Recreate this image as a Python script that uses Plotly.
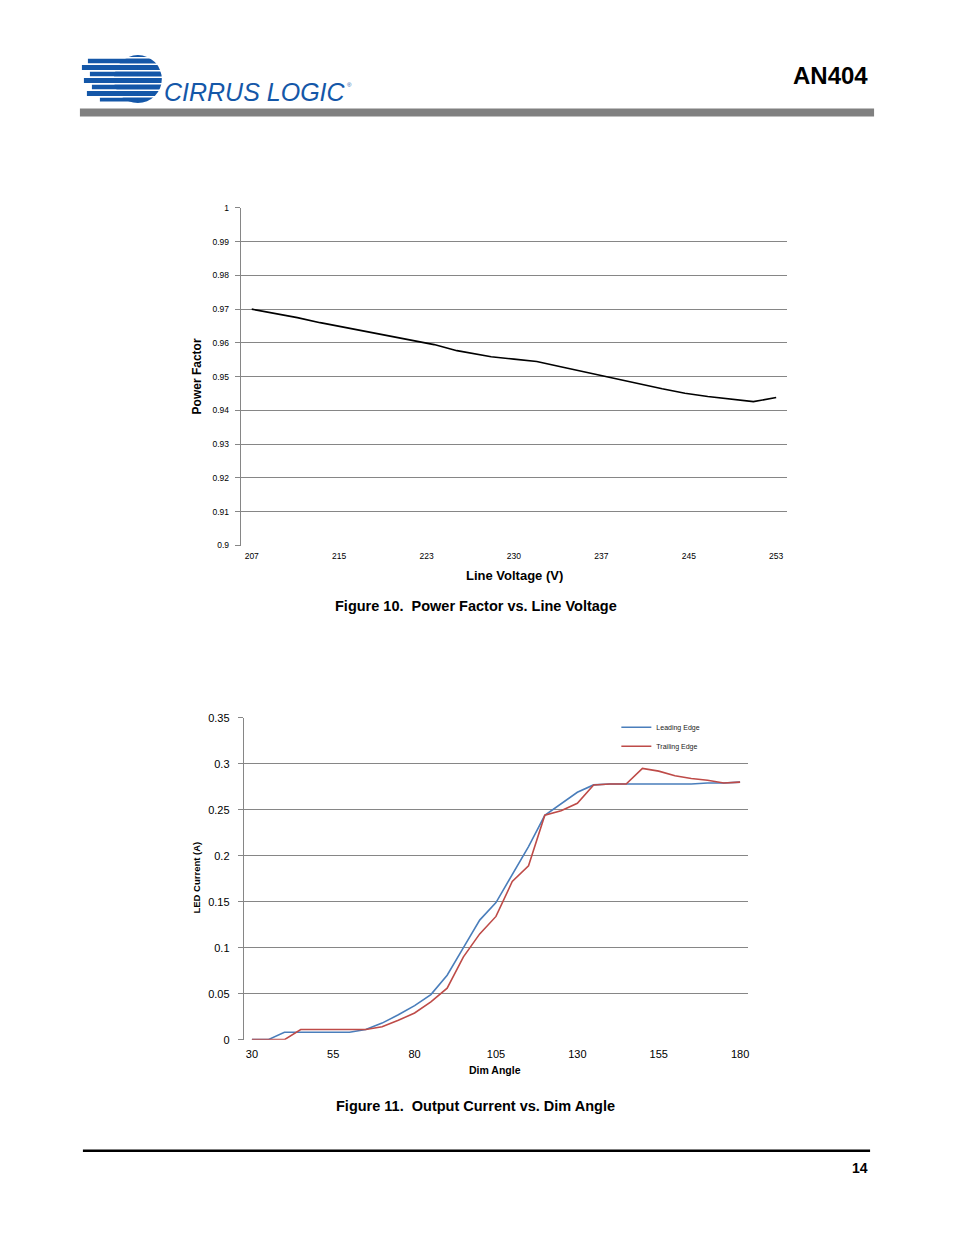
import plotly.graph_objects as go
import numpy as np

# ---------------- data ----------------
# Figure 10: Power factor vs line voltage
line_voltage = [207, 211, 213, 218, 220, 223, 225, 228, 230, 232, 234, 236, 240, 242, 243,
                245, 247, 251, 253]
power_factor = [0.9700, 0.9675, 0.9660, 0.9628, 0.9614, 0.9595, 0.9577, 0.9559, 0.9552, 0.9545,
                0.9530, 0.9515, 0.9485, 0.9472, 0.9464, 0.9451, 0.9441, 0.9426, 0.9438]
pf_x_labels = ["207", "215", "223", "230", "237", "245", "253"]
pf_y_ticks = [0.90, 0.91, 0.92, 0.93, 0.94, 0.95, 0.96, 0.97, 0.98, 0.99, 1.00]
pf_y_labels = ["0.9", "0.91", "0.92", "0.93", "0.94", "0.95", "0.96", "0.97", "0.98", "0.99", "1"]

# Figure 11: Output current vs dim angle
dim_angle = [30, 35, 40, 45, 50, 55, 60, 65, 70, 75, 80, 85, 90, 95, 100, 105, 110, 115, 120,
             125, 130, 135, 140, 145, 150, 155, 160, 165, 170, 175, 180]
leading_edge = [0.0, 0.0, 0.008, 0.008, 0.008, 0.008, 0.008, 0.011, 0.018, 0.027, 0.037, 0.049,
                0.070, 0.100, 0.130, 0.149, 0.180, 0.210, 0.244, 0.257, 0.269, 0.277, 0.278,
                0.278, 0.278, 0.278, 0.278, 0.278, 0.279, 0.279, 0.280]
trailing_edge = [0.0, 0.0, 0.0, 0.011, 0.011, 0.011, 0.011, 0.011, 0.014, 0.021, 0.029, 0.041,
                 0.056, 0.090, 0.115, 0.134, 0.172, 0.189, 0.244, 0.249, 0.257, 0.277, 0.278,
                 0.278, 0.295, 0.292, 0.287, 0.284, 0.282, 0.279, 0.280]
dim_x_ticks = [30, 55, 80, 105, 130, 155, 180]
dim_y_ticks = [0, 0.05, 0.10, 0.15, 0.20, 0.25, 0.30, 0.35]
dim_y_labels = ["0", "0.05", "0.1", "0.15", "0.2", "0.25", "0.3", "0.35"]

# ---------------- page geometry helpers ----------------
# The page body adds an 8px margin; size the figure so the page fits the window exactly.
OFF = 8
W, H = 954 - 2 * OFF, 1235 - 2 * OFF
# small vertical correction observed in the rendered capture
KY, BY = 0.99, 5.5
def px(x):
    return (x - OFF) / W
def py(y):
    yd = (y - BY) / KY
    return 1 - (yd - OFF) / H

GRID = "#868686"
BLUE_LOGO = "#1457a8"

fig = go.Figure()

fig.add_trace(go.Scatter(x=line_voltage, y=power_factor, mode="lines",
                         line=dict(color="black", width=1.6), showlegend=False,
                         xaxis="x", yaxis="y"))
fig.add_trace(go.Scatter(x=dim_angle, y=leading_edge, mode="lines", name="Leading Edge",
                         line=dict(color="#4a7ebb", width=1.6), xaxis="x2", yaxis="y2"))
fig.add_trace(go.Scatter(x=dim_angle, y=trailing_edge, mode="lines", name="Trailing Edge",
                         line=dict(color="#be4b48", width=1.6), xaxis="x2", yaxis="y2"))

pad1 = 11 * 46 / 525
tick_font_small = dict(family="Liberation Sans, Arial", size=8.5, color="black")
tick_font_med = dict(family="Liberation Sans, Arial", size=11, color="black")

fig.update_layout(
    width=W, height=H,
    margin=dict(l=0, r=0, t=0, b=0),
    paper_bgcolor="white", plot_bgcolor="white",
    xaxis=dict(domain=[px(241), px(788)], range=[207 - pad1, 253 + pad1],
               tickvals=list(np.linspace(207, 253, len(pf_x_labels))), ticktext=pf_x_labels,
               showgrid=False, zeroline=False, showline=False, ticks="",
               tickfont=tick_font_small, anchor="y", ticklabelstandoff=4),
    yaxis=dict(domain=[py(545), py(207)], range=[0.8999, 1.0001],
               tickvals=pf_y_ticks, ticktext=pf_y_labels,
               showgrid=True, gridcolor=GRID, gridwidth=1, zeroline=False,
               showline=True, linecolor=GRID, linewidth=1,
               ticks="outside", ticklen=5, tickcolor=GRID, ticklabelstandoff=4,
               tickfont=tick_font_small, anchor="x"),
    xaxis2=dict(domain=[px(244), px(749)], range=[27.5, 182.5],
                tickvals=dim_x_ticks, showgrid=False, zeroline=False, showline=False,
                ticks="", tickfont=tick_font_med, anchor="y2", ticklabelstandoff=6),
    yaxis2=dict(domain=[py(1039), py(717)], range=[-0.0001, 0.3501],
                tickvals=dim_y_ticks, ticktext=dim_y_labels,
                showgrid=True, gridcolor=GRID, gridwidth=1, zeroline=False,
                showline=True, linecolor=GRID, linewidth=1,
                ticks="outside", ticklen=5, tickcolor=GRID, ticklabelstandoff=6,
                tickfont=tick_font_med, anchor="x2"),
    legend=dict(x=px(617), y=py(712), xanchor="left", yanchor="top",
                bgcolor="rgba(0,0,0,0)", borderwidth=0,
                font=dict(family="Liberation Sans, Arial", size=7, color="#222"),
                itemwidth=30, tracegroupgap=0),
    showlegend=True,
)

shapes = []
# header gray bar
shapes.append(dict(type="rect", xref="paper", yref="paper",
                   x0=px(80), x1=px(875), y0=py(116), y1=py(108),
                   fillcolor="#808080", line=dict(width=0)))
# footer black rule
shapes.append(dict(type="line", xref="paper", yref="paper",
                   x0=px(83), x1=px(871), y0=py(1150), y1=py(1150),
                   line=dict(color="black", width=2.5)))

# logo emblem: circle + stripes extending left, with white gaps
cx, cy, r = 138, 78.5, 24
shapes.append(dict(type="circle", xref="paper", yref="paper",
                   x0=px(cx - r), x1=px(cx + r), y0=py(cy + r), y1=py(cy - r),
                   fillcolor=BLUE_LOGO, line=dict(width=0)))
stripe_rows = [(58, 63, 88), (64.5, 69.5, 82), (71, 76, 90), (77.5, 82.5, 84),
               (84, 89, 92), (90.5, 95.5, 87), (97, 101, 100)]
for (y0, y1, xl) in stripe_rows:
    shapes.append(dict(type="rect", xref="paper", yref="paper",
                       x0=px(xl), x1=px(cx), y0=py(y1), y1=py(y0),
                       fillcolor=BLUE_LOGO, line=dict(width=0)))
for yg in [57.2, 63.7, 70.2, 76.7, 83.2, 89.7, 96.2]:
    shapes.append(dict(type="line", xref="paper", yref="paper",
                       x0=px(80), x1=px(163), y0=py(yg), y1=py(yg),
                       line=dict(color="white", width=1.4)))

fig.update_layout(shapes=shapes)

annotations = [
    dict(text="<i>CIRRUS LOGIC</i>", x=px(162), y=py(91), xanchor="left", yanchor="middle",
         font=dict(family="Liberation Sans, Arial", size=25, color=BLUE_LOGO)),
    dict(text="®", x=px(345), y=py(84), xanchor="left", yanchor="middle",
         font=dict(family="Liberation Sans, Arial", size=6, color=BLUE_LOGO)),
    dict(text="<b>AN404</b>", x=px(871), y=py(75), xanchor="right", yanchor="middle",
         font=dict(family="Liberation Sans, Arial", size=24, color="black")),
    dict(text="<b>Power Factor</b>", x=px(197), y=py(376), xanchor="center", yanchor="middle",
         textangle=-90, font=dict(family="Liberation Sans, Arial", size=12, color="black")),
    dict(text="<b>Line Voltage (V)</b>", x=px(515), y=py(575), xanchor="center", yanchor="middle",
         font=dict(family="Liberation Sans, Arial", size=13, color="black")),
    dict(text="<b>Figure 10.\u00a0 Power Factor vs. Line Voltage</b>", x=px(476), y=py(605),
         xanchor="center", yanchor="middle",
         font=dict(family="Liberation Sans, Arial", size=14.5, color="black")),
    dict(text="<b>LED Current (A)</b>", x=px(197), y=py(877), xanchor="center", yanchor="middle",
         textangle=-90, font=dict(family="Liberation Sans, Arial", size=9.5, color="black")),
    dict(text="<b>Dim Angle</b>", x=px(496), y=py(1069), xanchor="center", yanchor="middle",
         font=dict(family="Liberation Sans, Arial", size=10.5, color="black")),
    dict(text="<b>Figure 11.\u00a0 Output Current vs. Dim Angle</b>", x=px(476), y=py(1105),
         xanchor="center", yanchor="middle",
         font=dict(family="Liberation Sans, Arial", size=14.5, color="black")),
    dict(text="<b>14</b>", x=px(871), y=py(1167), xanchor="right", yanchor="middle",
         font=dict(family="Liberation Sans, Arial", size=14, color="black")),
]
for a in annotations:
    a.update(xref="paper", yref="paper", showarrow=False)
fig.update_layout(annotations=annotations)

fig.write_html("out.html")
